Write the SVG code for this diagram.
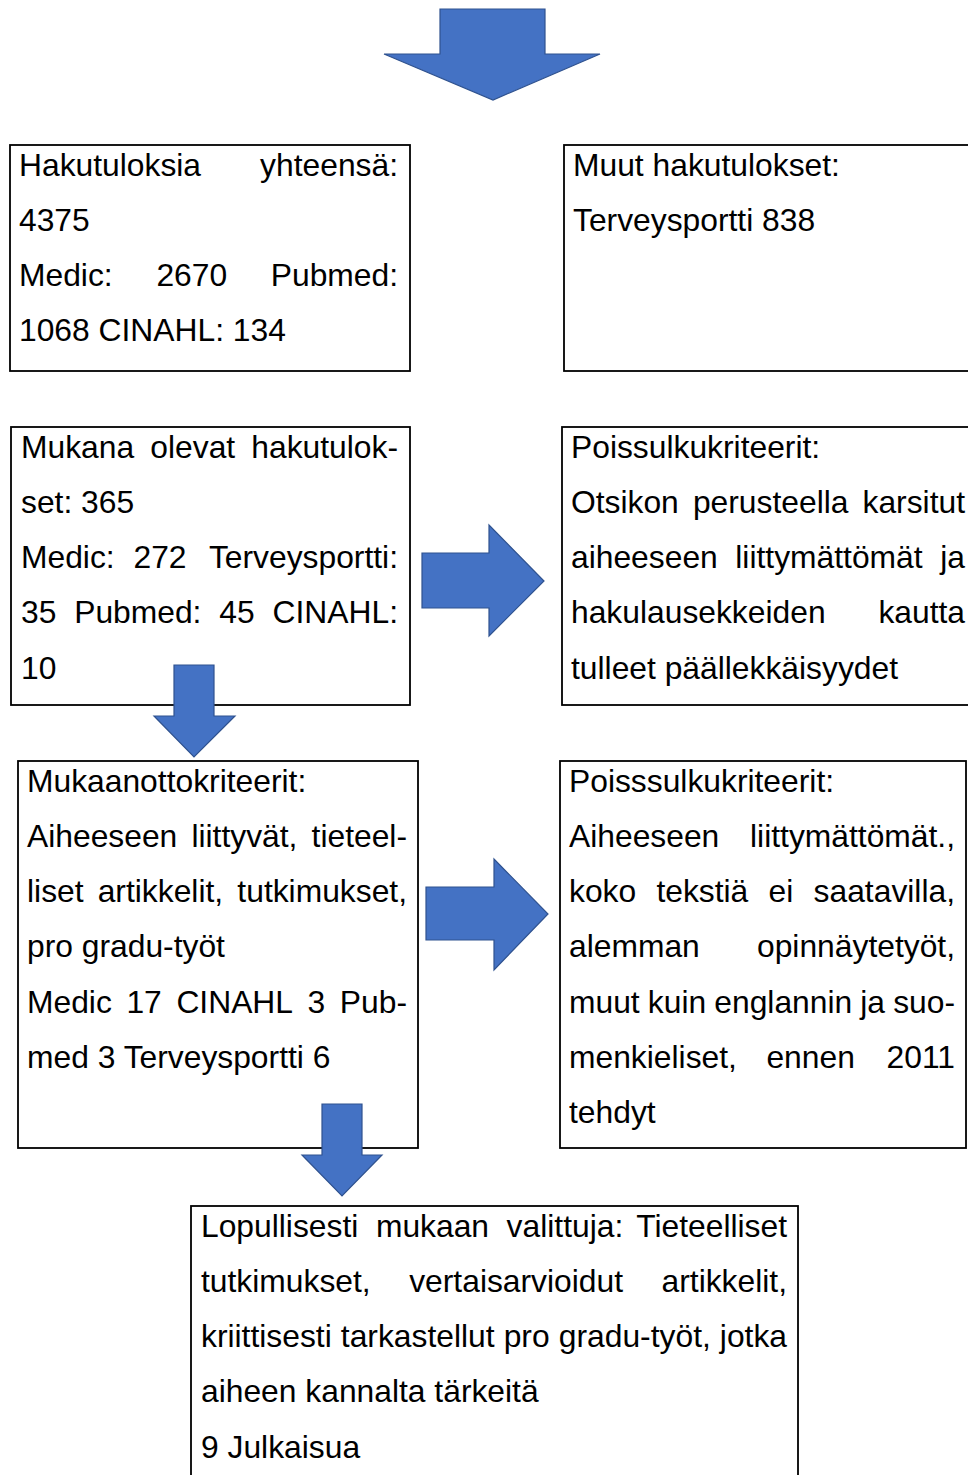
<svg xmlns="http://www.w3.org/2000/svg" width="968" height="1475" viewBox="0 0 968 1475">
<style>
.box{fill:#fff;stroke:#000;stroke-width:1.8}
.t{font-family:"Liberation Sans",Arial,sans-serif;font-size:31.8px;fill:#000}
.e{text-anchor:end}
.arr{fill:#4472C4;stroke:#2F528F;stroke-width:1.2;stroke-linejoin:miter}
</style>
<rect width="968" height="1475" fill="#fff"/>
<g id="box1">
<rect class="box" x="10" y="145" width="400" height="226"/>
<text class="t" x="19" y="175.5">Hakutuloksia</text><text class="t e" x="398" y="175.5">yhteensä:</text>
<text class="t" x="19" y="230.8">4375</text>
<text class="t" x="19" y="286.1">Medic:</text><text class="t" x="156.4" y="286.1">2670</text><text class="t e" x="398" y="286.1">Pubmed:</text>
<text class="t" x="19" y="341.4">1068 CINAHL: 134</text>
</g>
<g id="box2">
<rect class="box" x="564" y="145" width="410" height="226"/>
<text class="t" x="573" y="175.5">Muut hakutulokset:</text>
<text class="t" x="573" y="230.8">Terveysportti 838</text>
</g>
<g id="box3">
<rect class="box" x="11" y="427" width="399" height="278"/>
<text class="t" x="21" y="457.5">Mukana</text><text class="t" x="150.3" y="457.5">olevat</text><text class="t e" x="398" y="457.5">hakutulok-</text>
<text class="t" x="21" y="512.8">set: 365</text>
<text class="t" x="21" y="568.1">Medic:</text><text class="t" x="133.5" y="568.1">272</text><text class="t e" x="398" y="568.1">Terveysportti:</text>
<text class="t" x="21" y="623.4">35</text><text class="t" x="74.2" y="623.4">Pubmed:</text><text class="t" x="219.3" y="623.4">45</text><text class="t e" x="398" y="623.4">CINAHL:</text>
<text class="t" x="21" y="678.7">10</text>
</g>
<g id="box4">
<rect class="box" x="562" y="427" width="412" height="278"/>
<text class="t" x="571" y="457.5">Poissulkukriteerit:</text>
<text class="t" x="571" y="512.8">Otsikon</text><text class="t" x="692.9" y="512.8">perusteella</text><text class="t e" x="965" y="512.8">karsitut</text>
<text class="t" x="571" y="568.1">aiheeseen</text><text class="t" x="735.3" y="568.1">liittymättömät</text><text class="t e" x="965" y="568.1">ja</text>
<text class="t" x="571" y="623.4">hakulausekkeiden</text><text class="t e" x="965" y="623.4">kautta</text>
<text class="t" x="571" y="678.7">tulleet päällekkäisyydet</text>
</g>
<g id="box5">
<rect class="box" x="18" y="761" width="400" height="387"/>
<text class="t" x="27" y="791.5">Mukaanottokriteerit:</text>
<text class="t" x="27" y="846.8">Aiheeseen</text><text class="t" x="191.4" y="846.8">liittyvät,</text><text class="t e" x="407" y="846.8">tieteel-</text>
<text class="t" x="27" y="902.1">liset</text><text class="t" x="97.7" y="902.1">artikkelit,</text><text class="t e" x="407" y="902.1">tutkimukset,</text>
<text class="t" x="27" y="957.4">pro gradu-työt</text>
<text class="t" x="27" y="1012.7">Medic</text><text class="t" x="126.4" y="1012.7">17</text><text class="t" x="176.4" y="1012.7">CINAHL</text><text class="t" x="307.6" y="1012.7">3</text><text class="t e" x="407" y="1012.7">Pub-</text>
<text class="t" x="27" y="1068">med 3 Terveysportti 6</text>
</g>
<g id="box6">
<rect class="box" x="560" y="761" width="406" height="387"/>
<text class="t" x="569" y="791.5">Poisssulkukriteerit:</text>
<text class="t" x="569" y="846.8">Aiheeseen</text><text class="t e" x="955" y="846.8">liittymättömät.,</text>
<text class="t" x="569" y="902.1">koko</text><text class="t" x="656.4" y="902.1">tekstiä</text><text class="t" x="768.6" y="902.1">ei</text><text class="t e" x="955" y="902.1">saatavilla,</text>
<text class="t" x="569" y="957.4">alemman</text><text class="t e" x="955" y="957.4">opinnäytetyöt,</text>
<text class="t" x="569" y="1012.7">muut</text><text class="t" x="647.8" y="1012.7">kuin</text><text class="t" x="714.3" y="1012.7">englannin</text><text class="t" x="860.3" y="1012.7">ja</text><text class="t e" x="955" y="1012.7">suo-</text>
<text class="t" x="569" y="1068">menkieliset,</text><text class="t" x="766.4" y="1068">ennen</text><text class="t e" x="955" y="1068">2011</text>
<text class="t" x="569" y="1123.3">tehdyt</text>
</g>
<g id="box7">
<rect class="box" x="191" y="1206" width="607" height="290"/>
<text class="t" x="201" y="1236.5">Lopullisesti</text><text class="t" x="375.9" y="1236.5">mukaan</text><text class="t" x="506.6" y="1236.5">valittuja:</text><text class="t e" x="787" y="1236.5">Tieteelliset</text>
<text class="t" x="201" y="1291.8">tutkimukset,</text><text class="t" x="409.2" y="1291.8">vertaisarvioidut</text><text class="t e" x="787" y="1291.8">artikkelit,</text>
<text class="t" x="201" y="1347.1">kriittisesti</text><text class="t" x="340.8" y="1347.1">tarkastellut</text><text class="t" x="503.7" y="1347.1">pro</text><text class="t" x="558.8" y="1347.1">gradu-työt,</text><text class="t e" x="787" y="1347.1">jotka</text>
<text class="t" x="201" y="1402.4">aiheen kannalta tärkeitä</text>
<text class="t" x="201" y="1457.7">9 Julkaisua</text>
</g>
<g id="connectors">
<polygon class="arr" points="440,9 545,9 545,54 600,54 493,100 384,54 440,54"/>
<polygon class="arr" points="422,553 489,553 489,525 544,581 489,636 489,608 422,608"/>
<polygon class="arr" points="174,665 214,665 214,716 235,716 194,757 154,716 174,716"/>
<polygon class="arr" points="426,887 494,887 494,859 548,914 494,970 494,940 426,940"/>
<polygon class="arr" points="322,1104 362,1104 362,1155 382,1155 342,1196 302,1155 322,1155"/>
</g>
</svg>
